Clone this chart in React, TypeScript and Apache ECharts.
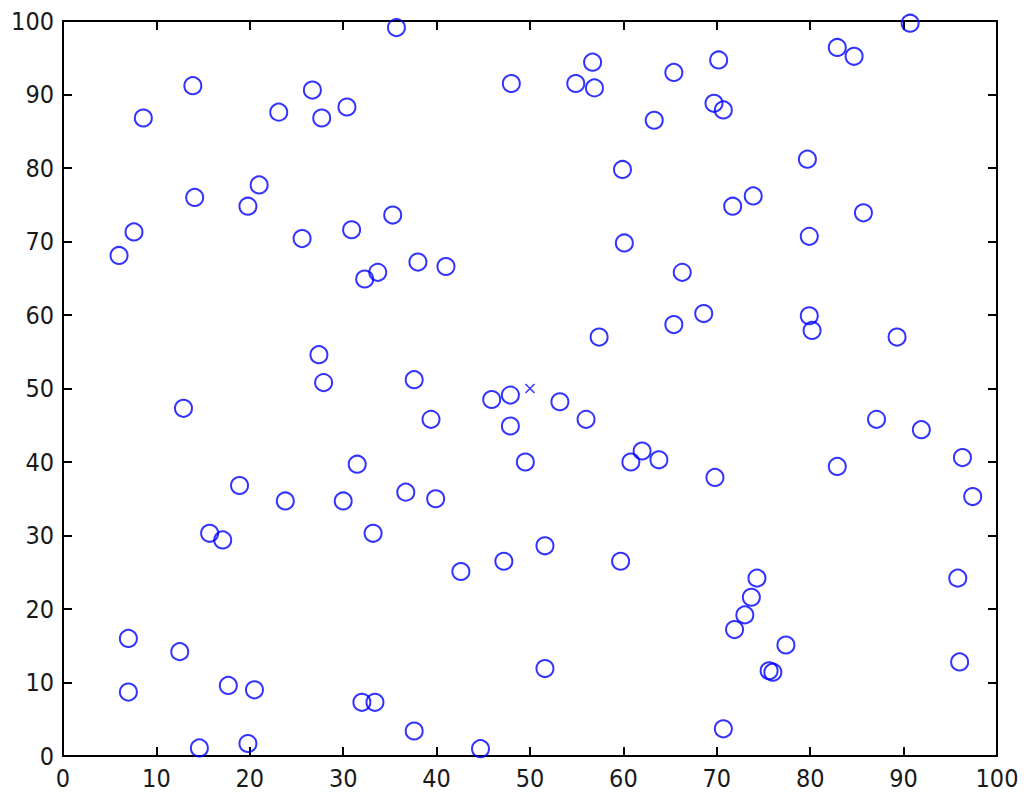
import React, { useEffect, useRef } from "react";
import * as echarts from "echarts";

const xTicks = [0, 10, 20, 30, 40, 50, 60, 70, 80, 90, 100];
const yTicks = [0, 10, 20, 30, 40, 50, 60, 70, 80, 90, 100];

const pointsX = [
  35.7, 90.7, 82.9, 84.7, 56.7, 70.2, 65.4, 54.9, 56.9, 48.0,
  13.9, 26.7, 30.4, 23.1, 27.7, 8.6, 69.7, 70.7, 63.3, 79.7,
  59.9, 21.0, 14.1, 19.8, 73.9, 71.7, 85.7, 35.3, 30.9, 7.6,
  25.6, 79.9, 60.1, 6.0, 38.0, 41.0, 66.3, 33.7, 32.3, 79.9,
  65.4, 68.6, 80.2, 89.3, 57.4, 27.4, 27.9, 37.6, 45.9, 47.9,
  53.2, 12.9, 87.1, 39.4, 56.0, 47.9, 91.9, 62.0, 96.3, 31.5,
  49.5, 60.8, 63.8, 82.9, 69.8, 18.9, 36.7, 97.4, 23.8, 30.0,
  39.9, 15.7, 33.2, 17.1, 51.6, 42.6, 47.2, 59.7, 74.3, 95.8,
  73.7, 73.0, 71.9, 77.4, 7.0, 12.5, 96.0, 51.6, 75.6, 76.0,
  7.0, 17.7, 20.5, 32.0, 33.4, 37.6, 70.7, 14.6, 19.8, 44.7,
];
const pointsY = [
  99.1, 99.7, 96.4, 95.2, 94.4, 94.7, 93.0, 91.5, 90.9, 91.5,
  91.2, 90.6, 88.3, 87.6, 86.8, 86.8, 88.8, 87.9, 86.5, 81.2,
  79.8, 77.7, 76.0, 74.8, 76.2, 74.8, 73.9, 73.6, 71.6, 71.3,
  70.4, 70.7, 69.8, 68.1, 67.2, 66.6, 65.8, 65.8, 64.9, 59.9,
  58.7, 60.2, 57.9, 57.0, 57.0, 54.6, 50.8, 51.2, 48.5, 49.1,
  48.2, 47.3, 45.8, 45.8, 45.8, 44.9, 44.4, 41.5, 40.6, 39.7,
  40.0, 40.0, 40.3, 39.4, 37.9, 36.8, 35.9, 35.3, 34.7, 34.7,
  35.0, 30.3, 30.3, 29.4, 28.6, 25.1, 26.5, 26.5, 24.2, 24.2,
  21.6, 19.2, 17.2, 15.1, 16.0, 14.2, 12.8, 11.9, 11.6, 11.4,
  8.7, 9.6, 9.0, 7.3, 7.3, 3.4, 3.7, 1.1, 1.7, 1.0,
];
const centerX = [50];
const centerY = [50];

const FONT = "'DejaVu Sans Condensed', 'DejaVu Sans', sans-serif";

export default function App() {
  const ref = useRef<HTMLDivElement>(null);
  useEffect(() => {
    if (!ref.current) return;
    const chart = echarts.init(ref.current, undefined, { renderer: "svg" });
    const axisCommon = {
      type: "value" as const,
      min: xTicks[0],
      max: xTicks[xTicks.length - 1],
      interval: 10,
      splitLine: { show: false },
      axisLine: { show: true, onZero: false, lineStyle: { color: "#000", width: 2 } },
      axisTick: { show: true, inside: true, length: 9, lineStyle: { color: "#000", width: 2 } },
    };
    const labelStyle = { show: true, color: "#1a1a1a", fontSize: 25, fontFamily: FONT };
    chart.setOption({
      animation: false,
      backgroundColor: "#fff",
      grid: { left: 63, top: 21, right: 27, bottom: 46, containLabel: false },
      xAxis: [
        { ...axisCommon, position: "bottom", axisLabel: { ...labelStyle, margin: 10 } },
        { ...axisCommon, position: "top", axisLabel: { show: false } },
      ],
      yAxis: [
        {
          ...axisCommon,
          min: yTicks[0],
          max: yTicks[yTicks.length - 1],
          position: "left",
          axisLabel: { ...labelStyle, margin: 9 },
        },
        {
          ...axisCommon,
          min: yTicks[0],
          max: yTicks[yTicks.length - 1],
          position: "right",
          axisLabel: { show: false },
        },
      ],
      series: [
        {
          type: "scatter",
          xAxisIndex: 0,
          yAxisIndex: 0,
          data: pointsX.map((x, i) => [x, pointsY[i]]),
          symbol: "circle",
          symbolSize: 17,
          itemStyle: { color: "rgba(0,0,0,0)", borderColor: "#0000ff", borderWidth: 2 },
          emphasis: { disabled: true },
        },
        {
          type: "scatter",
          xAxisIndex: 0,
          yAxisIndex: 0,
          data: centerX.map((x, i) => [x, centerY[i]]),
          symbol: "path://M0,0L10,10M10,0L0,10",
          symbolSize: 9,
          itemStyle: { color: "rgba(0,0,0,0)", borderColor: "#0000ff", borderWidth: 1.5 },
          emphasis: { disabled: true },
        },
      ],
    });
    return () => chart.dispose();
  }, []);
  return (
    <div
      ref={ref}
      style={{ position: "fixed", left: 0, top: 0, width: 1024, height: 802, background: "#fff" }}
    />
  );
}
